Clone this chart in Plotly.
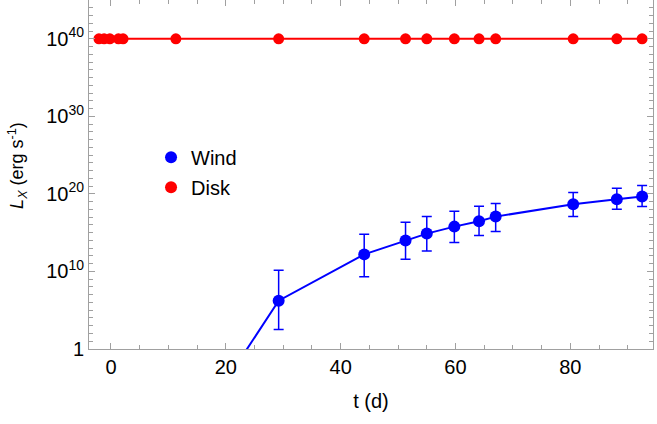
import numpy as np
import plotly.graph_objects as go

# observation times (days)
t_days = [-2.1, -1.2, -0.2, 1.3, 2.1, 11.3, 29.2, 44.1, 51.3, 55.0,
          59.8, 64.1, 67.0, 80.5, 88.1, 92.5]

# disk luminosity (erg/s)
disk_lx = [1e40] * len(t_days)

# wind luminosity, log10 values (points before t=29 are off-scale)
wind_t = [11.3, 29.2, 44.1, 51.3, 55.0, 59.8, 64.1, 67.0, 80.5, 88.1, 92.5]
wind_log = [-14.0, 6.23, 12.2, 13.98, 14.88, 15.78, 16.47, 17.07, 18.67, 19.32, 19.65]
wind_log_hi = [-14.0, 10.15, 14.8, 16.35, 17.07, 17.76, 18.41, 18.75, 20.17, 20.74, 21.07]
wind_log_lo = [-14.0, 2.5, 9.33, 11.57, 12.65, 13.72, 14.62, 15.14, 17.07, 18.03, 18.36]

wind_lx = 10.0 ** np.array(wind_log)
err_plus = 10.0 ** np.array(wind_log_hi) - wind_lx
err_minus = wind_lx - 10.0 ** np.array(wind_log_lo)

x_ticks = [0, 20, 40, 60, 80]
y_exps = [0, 10, 20, 30, 40]
y_labels = ["1", "10<sup>10</sup>", "10<sup>20</sup>", "10<sup>30</sup>", "10<sup>40</sup>"]

RED = "rgb(255,0,0)"
BLUE = "rgb(0,0,255)"
FRAME = "rgb(160,160,160)"

fig = go.Figure()

fig.add_trace(go.Scatter(
    x=wind_t, y=wind_lx, mode="lines+markers",
    line=dict(color=BLUE, width=2),
    marker=dict(color=BLUE, size=12),
    error_y=dict(type="data", array=err_plus, arrayminus=err_minus,
                 color=BLUE, thickness=1.5, width=5),
    showlegend=False, cliponaxis=True,
))

fig.add_trace(go.Scatter(
    x=t_days, y=disk_lx, mode="lines+markers",
    line=dict(color=RED, width=2),
    marker=dict(color=RED, size=11),
    showlegend=False, cliponaxis=False,
))

# legend entries shown as plain dots
for name, col in [("Wind", BLUE), ("Disk", RED)]:
    fig.add_trace(go.Scatter(
        x=[None], y=[None], mode="markers", name=name, legendgroup=name,
        marker=dict(color=col, size=18),
    ))

axis_common = dict(
    showline=True, linecolor=FRAME, linewidth=1, mirror="allticks",
    ticks="inside", tickcolor=FRAME, ticklen=6, showgrid=False, zeroline=False,
    tickfont=dict(size=20, color="black"), automargin=False,
)

fig.update_xaxes(
    range=[-3.83, 94.4], tickvals=x_ticks,
    title=dict(text="t (d)", font=dict(size=20, color="black"), standoff=16),
    minor=dict(dtick=5, tick0=0, ticks="inside", ticklen=4, tickcolor=FRAME),
    **axis_common,
)

fig.update_yaxes(
    type="log", range=[0, 45],
    tickvals=[10.0 ** e for e in y_exps], ticktext=y_labels,
    minor=dict(tickvals=[10.0 ** e for e in range(0, 46) if e % 10],
               ticks="inside", ticklen=4, tickcolor=FRAME),
    **axis_common,
)

# y-axis title placed by hand (Mathematica-style offset)
fig.add_annotation(
    text="<i>L</i><sub><i>X</i></sub> (erg s<sup>-1</sup>)",
    xref="paper", yref="paper", x=-0.128, y=0.527,
    xanchor="center", yanchor="middle", textangle=-90, showarrow=False,
    font=dict(size=18, color="black"),
)

fig.update_layout(
    width=657, height=424,
    margin=dict(l=89, r=4, t=0, b=75),
    plot_bgcolor="white", paper_bgcolor="white",
    font=dict(family="Liberation Sans, Arial, sans-serif", size=20, color="black"),
    legend=dict(x=0.11, y=0.605, xanchor="left", yanchor="top",
                bgcolor="rgba(0,0,0,0)", font=dict(size=20),
                itemsizing="constant", tracegroupgap=1),
)

fig.write_html("out.html", config={"displayModeBar": False},
               post_script="document.body.style.margin='0';")
